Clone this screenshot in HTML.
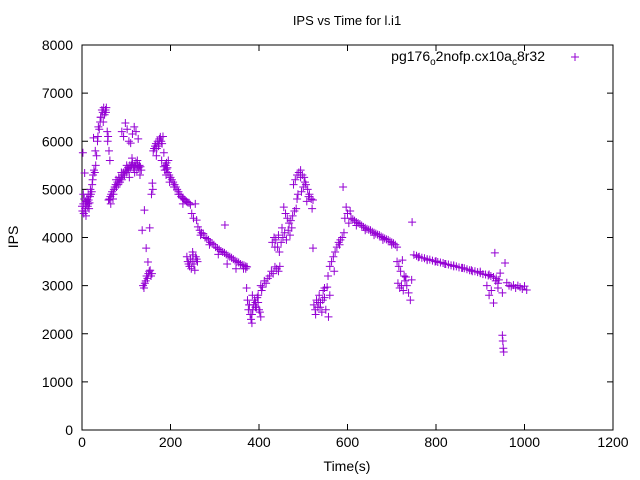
<!DOCTYPE html>
<html><head><meta charset="utf-8"><style>
body{margin:0;background:#fff;}
svg{display:block;font-family:"Liberation Sans",sans-serif;}
</style></head><body>
<svg id="chart" width="640" height="480" viewBox="0 0 640 480" xmlns="http://www.w3.org/2000/svg">
<rect width="640" height="480" fill="#fff"/>
<text x="347" y="25" font-size="13" text-anchor="middle">IPS vs Time for l.i1</text>
<text x="0" y="0" font-size="14" text-anchor="middle" transform="translate(18,237) rotate(-90)">IPS</text>
<text x="347" y="471" font-size="14" text-anchor="middle">Time(s)</text>
<g id="axes"></g>
<g id="points"></g>
<g>
<text x="545" y="61" font-size="14" text-anchor="end">pg176<tspan dy="4" font-size="10">o</tspan><tspan dy="-4">2nofp.cx10a</tspan><tspan dy="4" font-size="10">c</tspan><tspan dy="-4">8r32</tspan></text>
<path d="M571 57h8M575 53v8" stroke="#9400d3" stroke-width="1"/>
</g>
</svg>
<script>
const xTicks=[0,200,400,600,800,1000,1200];
const yTicks=[0,1000,2000,3000,4000,5000,6000,7000,8000];
const times=[
0,1,2,3,4,5,6,7,8,9,10,11,12,13,14,15,16,17,18,20,22,24,
25,27,29,31,33,35,37,39,41,43,45,47,49,51,53,55,57,59,61,63,26,30,
60,62,64,66,68,70,72,74,76,78,80,82,84,86,88,90,92,94,96,98,100,102,104,106,108,110,112,114,116,118,120,122,124,126,128,130,132,134,
90,94,98,102,106,110,114,118,122,127,
136,138,140,142,144,146,148,150,152,154,156,158,141,145,149,153,157,159,160,
161,163,165,167,169,171,173,175,177,179,181,183,185,187,189,191,193,195,
185,188,191,194,197,200,203,206,209,212,215,218,221,224,227,230,233,236,239,242,
245,248,252,256,259,237,239,241,243,245,247,249,251,253,255,257,259,261,
262,266,270,274,278,282,286,290,294,298,302,306,310,314,318,322,326,330,334,338,342,346,350,354,358,362,366,370,373,323,
370,372,374,376,378,380,382,384,386,388,390,392,394,396,398,400,402,404,406,385,
404,408,412,416,420,424,428,432,436,440,444,447,
430,434,438,442,446,450,454,458,462,466,470,474,456,460,464,468,472,476,480,484,
478,482,486,490,494,498,502,506,510,514,518,522,488,496,504,512,520,
522,524,527,530,533,536,539,542,545,548,551,554,557,560,528,538,548,
556,560,564,568,572,576,580,584,588,592,590,594,597,600,603,606,
608,612,616,620,624,628,632,636,640,644,648,652,656,660,664,668,672,676,680,684,688,692,696,700,704,708,712,
712,716,720,724,728,732,714,718,722,726,730,734,738,742,745,746,
750,756,762,768,774,780,786,792,798,804,810,816,822,828,834,840,846,852,858,864,870,876,882,888,894,900,906,912,918,924,930,936,942,
915,920,925,930,935,940,945,950,933,956,950,951,952,953,960,965,970,975,980,985,990,995,1000,1005,
3,8,14,19,23,36,42,48,54,58,65,71,77,83,89,95,101,107,113,119,125,131,
168,174,180,190,198,208,218,228,250,268,288,308,328,348,365,378,384,392,398,
436,444,452,486,494,500,508,534,544,570,582,620,640,660,680,700,
760,780,800,820,840,860,880,900,920,940
];
const ips=[
4650,4550,5760,4700,4500,4800,5340,4600,4750,4450,4700,4800,4750,4650,4700,4780,4600,4720,4850,4900,4950,5200,
5300,5400,5350,5500,5700,6000,6300,6250,6400,6500,6650,6600,6700,6550,6650,6700,6200,6100,5800,5600,6070,5800,
4780,4800,4850,4900,4950,4800,5000,5050,5100,5050,5150,5100,5200,5150,5250,5200,5300,5350,5300,5400,5350,5400,5450,5400,5500,5450,5500,5550,5450,5500,5480,5550,5400,5500,5450,5500,5470,5400,
6200,6100,6380,6250,6000,5960,6150,6300,6200,6050,
4150,3000,2950,3050,3100,3200,3150,3250,3300,3320,3200,3250,4570,3780,3490,4200,4900,5130,5000,
5800,5850,5900,5950,5850,6000,5900,6050,6090,6000,5950,6100,5760,5400,5500,5550,5450,5600,
5470,5500,5420,5350,5300,5250,5200,5150,5100,5050,5000,4950,4900,4850,4820,4800,4780,4750,4730,4720,
4680,4500,4400,4700,4360,3600,3500,3450,3400,3550,3350,3500,3640,3450,3320,3600,3550,3500,
4220,4150,4100,4080,4000,3980,3950,3900,3880,3850,3800,3780,3750,3720,3700,3680,3650,3620,3600,3580,3550,3520,3500,3480,3450,3430,3420,3400,3390,4260,
3350,2950,2700,2500,2600,2400,2300,2220,2500,2600,2700,2650,2550,2750,2650,2500,2450,2350,2900,2800,
3000,2970,3100,3050,3150,3200,3300,3250,3390,3350,3300,3400,
3900,4000,3950,3800,3700,3900,4000,4100,3950,4150,4050,4200,4630,4500,4400,4300,4350,4450,4550,4600,
5100,5200,5300,5350,5400,5300,5250,5100,5000,4900,4800,4780,4900,4950,5150,4850,4600,
3780,2600,2500,2700,2550,2800,2650,2450,2900,2750,2500,2970,2350,2800,2400,2550,2950,
3200,3400,3500,3600,3700,3800,3900,3950,4000,4100,5050,4400,4630,4500,4300,4550,
4400,4380,4350,4320,4300,4280,4250,4220,4200,4180,4160,4150,4120,4100,4080,4060,4050,4020,4000,3980,3960,3950,3920,3900,3880,3850,3800,
3500,3400,3300,3530,3200,3180,3050,2950,3000,2900,3100,3000,2850,2700,3120,4320,
3640,3620,3600,3580,3570,3550,3540,3520,3500,3490,3480,3470,3450,3440,3420,3400,3400,3380,3370,3360,3340,3320,3300,3300,3280,3260,3240,3230,3210,3200,3180,3150,3120,
3000,2800,2900,2640,3100,2950,3260,2850,3680,3470,1970,1850,1700,1620,3060,3000,2980,3010,2950,3000,2970,2930,2990,2910,
4900,4550,4900,5000,5100,6100,6500,6400,6600,6000,4700,4900,5200,5250,5350,5300,5500,5250,5650,5350,5600,5300,
5700,5950,5600,5300,5150,5050,4900,4700,3700,4050,3850,3650,3450,3350,3350,2600,2400,2550,2800,
3800,4050,4200,4800,5250,5050,4750,2650,2700,3300,3850,4250,4150,4050,3950,3850,
3590,3530,3510,3450,3420,3370,3320,3290,3230,3050
];
const NS="http://www.w3.org/2000/svg";
const L=82,R=613,T=45,B=430;
const xMin=0,xMax=1200,yMin=0,yMax=8000;
function sx(v){return L+(v-xMin)/(xMax-xMin)*(R-L);}
function sy(v){return B-(v-yMin)/(yMax-yMin)*(B-T);}
function mk(tag,attrs,parent){const e=document.createElementNS(NS,tag);for(const k in attrs)e.setAttribute(k,attrs[k]);parent.appendChild(e);return e;}
const axes=document.getElementById('axes');
const box=mk('rect',{x:L,y:T,width:R-L,height:B-T,fill:'none',stroke:'#000','stroke-width':1},axes);


xTicks.forEach(function(t){
  const x=sx(t);
  const tk=mk('path',{d:'M'+x+' '+B+'v-6M'+x+' '+T+'v6',stroke:'#000','stroke-width':1},axes);
  
  
  const lb=mk('text',{x:x,y:B+17,'font-size':14,'text-anchor':'middle'},axes);
  lb.textContent=t;
  
  
});
yTicks.forEach(function(t){
  const y=sy(t);
  const tk=mk('path',{d:'M'+L+' '+y+'h6M'+R+' '+y+'h-6',stroke:'#000','stroke-width':1},axes);
  
  
  const lb=mk('text',{x:L-9,y:y+5,'font-size':14,'text-anchor':'end'},axes);
  lb.textContent=t;
  
  
});
const pts=document.getElementById('points');
for(let i=0;i<times.length;i++){
  const x=sx(times[i]),y=sy(ips[i]);
  const p=mk('path',{d:'M'+(x-4)+' '+y+'h8M'+x+' '+(y-4)+'v8',stroke:'#9400d3','stroke-width':1},pts);
  
  
}
</script>
</body></html>
